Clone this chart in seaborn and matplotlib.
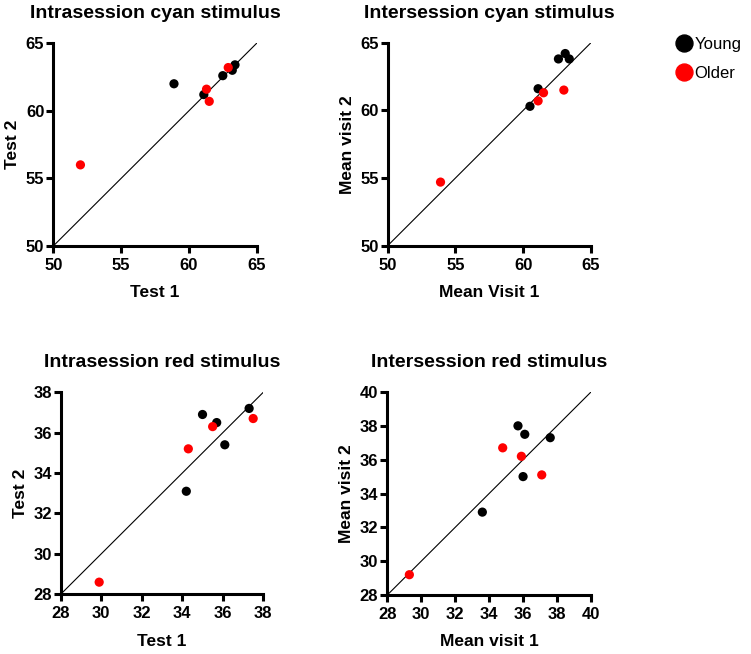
import numpy as np
import pandas as pd
import seaborn as sns
import matplotlib.pyplot as plt
from matplotlib.lines import Line2D

# intrasession cyan
ic_young_t1 = [58.9, 61.1, 62.5, 63.2, 63.4]
ic_young_t2 = [62.0, 61.2, 62.6, 63.0, 63.4]
ic_older_t1 = [52.0, 61.3, 61.5, 62.9]
ic_older_t2 = [56.0, 61.6, 60.7, 63.2]

# intersession cyan
ec_young_v1 = [63.1, 62.6, 63.4, 61.1, 60.5]
ec_young_v2 = [64.2, 63.8, 63.8, 61.6, 60.3]
ec_older_v1 = [53.9, 61.1, 61.5, 63.0]
ec_older_v2 = [54.7, 60.7, 61.3, 61.5]

# intrasession red
ir_young_t1 = [35.0, 35.7, 37.3, 36.1, 34.2]
ir_young_t2 = [36.9, 36.5, 37.2, 35.4, 33.1]
ir_older_t1 = [34.3, 35.5, 37.5, 29.9]
ir_older_t2 = [35.2, 36.3, 36.7, 28.6]

# intersession red
er_young_v1 = [35.7, 36.1, 37.6, 36.0, 33.6]
er_young_v2 = [38.0, 37.5, 37.3, 35.0, 32.9]
er_older_v1 = [34.8, 35.9, 37.1, 29.3]
er_older_v2 = [36.7, 36.2, 35.1, 29.2]

groups = ['Young', 'Older']
palette = {'Young': '#000000', 'Older': '#ff0000'}


def make_df(yx, yy, ox, oy):
    return pd.DataFrame({
        'x': yx + ox,
        'y': yy + oy,
        'group': ['Young'] * len(yx) + ['Older'] * len(ox),
    })


panels = [
    (make_df(ic_young_t1, ic_young_t2, ic_older_t1, ic_older_t2),
     'Intrasession cyan stimulus', 'Test 1', 'Test 2', (50, 65), [50, 55, 60, 65],
     [0.0710, 0.6239, 0.2708, 0.3100]),
    (make_df(ec_young_v1, ec_young_v2, ec_older_v1, ec_older_v2),
     'Intersession cyan stimulus', 'Mean Visit 1', 'Mean visit 2', (50, 65), [50, 55, 60, 65],
     [0.5162, 0.6243, 0.2707, 0.3104]),
    (make_df(ir_young_t1, ir_young_t2, ir_older_t1, ir_older_t2),
     'Intrasession red stimulus', 'Test 1', 'Test 2', (28, 38), [28, 30, 32, 34, 36, 38],
     [0.0808, 0.0913, 0.2698, 0.3089]),
    (make_df(er_young_v1, er_young_v2, er_older_v1, er_older_v2),
     'Intersession red stimulus', 'Mean visit 1', 'Mean visit 2', (28, 40), [28, 30, 32, 34, 36, 38, 40],
     [0.5157, 0.0902, 0.2712, 0.3104]),
]

sns.set_style('ticks')
plt.rcParams['font.family'] = ['Liberation Sans', 'DejaVu Sans']
plt.rcParams['text.color'] = 'black'
plt.rcParams['axes.labelcolor'] = 'black'

fig = plt.figure(figsize=(7.51, 6.54), dpi=100)

for df, title, xl, yl, lim, tk, pos in panels:
    ax = fig.add_axes(pos)
    ax.plot(lim, lim, color='black', lw=0.8, zorder=1)
    sns.scatterplot(data=df, x='x', y='y', hue='group', hue_order=groups, palette=palette,
                    s=44, edgecolor='none', legend=False, ax=ax, zorder=3, clip_on=False)
    ax.set_xlim(lim)
    ax.set_ylim(lim)
    ax.set_xticks(tk)
    ax.set_yticks(tk)
    sns.despine(ax=ax)
    for sp in ['left', 'bottom']:
        ax.spines[sp].set_linewidth(2.2)
        ax.spines[sp].set_color('black')
    ax.tick_params(width=2.2, length=5, labelsize=12, colors='black')
    ax.tick_params(axis='x', pad=3.5)
    ax.tick_params(axis='y', pad=1.5)
    for lab in ax.get_xticklabels() + ax.get_yticklabels():
        lab.set_fontweight('bold')
    ax.set_xlabel(xl, fontsize=12.5, fontweight='bold', labelpad=9)
    ax.set_ylabel(yl, fontsize=12.5, fontweight='bold', labelpad=4)
    ax.set_title(title, fontsize=14, fontweight='bold', pad=18)

handles = [Line2D([], [], marker='o', ls='none', color=palette[g], markersize=12.2) for g in groups]
fig.legend(handles, groups, loc='upper left', bbox_to_anchor=(0.889, 0.956), frameon=False,
           fontsize=12, handletextpad=0.1, labelspacing=0.85, handlelength=1.0, borderpad=0)

fig.savefig('out.png', dpi=100)
